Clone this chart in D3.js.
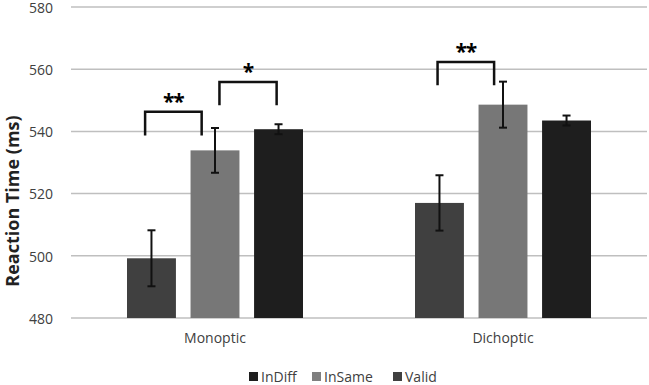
<!DOCTYPE html>
<html>
<head>
<meta charset="utf-8">
<script src="https://cdn.jsdelivr.net/npm/d3@7"></script>
<style>
  body { margin: 0; background: #fff; }
  text { font-family: "Open Sans", sans-serif; }
</style>
</head>
<body>
<div class="chart"></div>
<script>
// chart data
var categories = ["Monoptic", "Dichoptic"];
var seriesNames = ["InDiff", "InSame", "Valid"];
var means = [
  [499.2, 533.9, 540.7],
  [517.0, 548.6, 543.5]
];
var errors = [
  [9.0, 7.2, 1.6],
  [8.9, 7.4, 1.6]
];
var yTicks = [480, 500, 520, 540, 560, 580];
// significance brackets: category, from/to position (series index units), top value, leg value, label
var brackets = [
  { cat: "Monoptic", from: -0.1, to: 0.79, top: 546.3, leg: 538.7, label: "**" },
  { cat: "Monoptic", from: 1.07, to: 1.97, top: 555.9, leg: 548.4, label: "*" },
  { cat: "Dichoptic", from: -0.03, to: 0.86, top: 562.3, leg: 554.8, label: "**" }
];
var barColors = ["#404040", "#777777", "#1e1e1e"];
var legendColors = ["#1e1e1e", "#7f7f7f", "#404040"];

var svgWidth = 649, svgHeight = 385;
var margin = { top: 7, right: 2, bottom: 67, left: 71 };
var width = svgWidth - margin.left - margin.right;
var height = svgHeight - margin.top - margin.bottom;

var svg = d3.select(".chart").append("svg")
  .attr("width", svgWidth)
  .attr("height", svgHeight);

var chartGroup = svg.append("g")
  .attr("transform", `translate(${margin.left}, ${margin.top})`);

var xScale = d3.scaleBand()
  .domain(categories)
  .range([0, width]);

var xInner = d3.scaleBand()
  .domain(seriesNames)
  .range([xScale.bandwidth() / 2 - 88, xScale.bandwidth() / 2 + 88])
  .paddingInner(0.23)
  .paddingOuter(0);

var yScale = d3.scaleLinear()
  .domain([480, 580])
  .range([height, 0]);

// gridlines
chartGroup.append("g")
  .selectAll("line")
  .data(yTicks)
  .enter()
  .append("line")
  .attr("x1", 0)
  .attr("x2", width)
  .attr("y1", d => yScale(d))
  .attr("y2", d => yScale(d))
  .attr("stroke", "#bfbfbf")
  .attr("stroke-width", 1.5);

// y axis labels
var yAxis = d3.axisLeft(yScale).tickValues(yTicks).tickSize(0).tickPadding(18);
var yAxisG = chartGroup.append("g").call(yAxis);
yAxisG.select(".domain").remove();
yAxisG.selectAll("text")
  .attr("dy", "0.38em")
  .attr("fill", "#404040")
  .style("font-size", "14px")
  .style("font-family", "'Open Sans', sans-serif");

// x axis labels
var xAxis = d3.axisBottom(xScale).tickSize(0).tickPadding(15);
var xAxisG = chartGroup.append("g")
  .attr("transform", `translate(0, ${height})`)
  .call(xAxis);
xAxisG.select(".domain").remove();
xAxisG.selectAll("text")
  .attr("fill", "#404040")
  .style("font-size", "14px")
  .style("font-family", "'Open Sans', sans-serif");

// bars
var rows = [];
categories.forEach(function(c, i) {
  seriesNames.forEach(function(s, j) {
    rows.push({ cat: c, series: s, j: j, mean: means[i][j], err: errors[i][j] });
  });
});

var groups = chartGroup.selectAll(".bar")
  .data(rows)
  .enter()
  .append("g")
  .attr("class", "bar")
  .attr("transform", d => `translate(${xScale(d.cat) + xInner(d.series)}, 0)`);

groups.append("rect")
  .attr("x", 0)
  .attr("width", xInner.bandwidth())
  .attr("y", d => yScale(d.mean))
  .attr("height", d => height - yScale(d.mean))
  .style("fill", d => barColors[d.j]);

var cx = xInner.bandwidth() / 2;
groups.append("line")
  .attr("x1", cx).attr("x2", cx)
  .attr("y1", d => yScale(d.mean + d.err))
  .attr("y2", d => yScale(d.mean - d.err))
  .attr("stroke", "#111").attr("stroke-width", 2);
groups.append("line")
  .attr("x1", cx - 4).attr("x2", cx + 4)
  .attr("y1", d => yScale(d.mean + d.err))
  .attr("y2", d => yScale(d.mean + d.err))
  .attr("stroke", "#111").attr("stroke-width", 2);
groups.append("line")
  .attr("x1", cx - 4).attr("x2", cx + 4)
  .attr("y1", d => yScale(d.mean - d.err))
  .attr("y2", d => yScale(d.mean - d.err))
  .attr("stroke", "#111").attr("stroke-width", 2);

// significance brackets
var step = xInner.step();
function bx(cat, pos) {
  return xScale(cat) + xInner(seriesNames[0]) + cx + pos * step;
}
var br = chartGroup.selectAll(".bracket")
  .data(brackets)
  .enter()
  .append("g")
  .attr("class", "bracket");

br.append("path")
  .attr("d", d => `M${bx(d.cat, d.from)},${yScale(d.leg)}V${yScale(d.top)}H${bx(d.cat, d.to)}V${yScale(d.leg)}`)
  .attr("fill", "none")
  .attr("stroke", "#111")
  .attr("stroke-width", 2.5);

br.append("text")
  .attr("x", d => (bx(d.cat, d.from) + bx(d.cat, d.to)) / 2)
  .attr("y", d => yScale(d.top) - 3)
  .attr("text-anchor", "middle")
  .style("font-size", "21px")
  .style("font-weight", "bold")
  .style("letter-spacing", "-1px")
  .attr("fill", "#000")
  .text(d => d.label);

// y axis title
svg.append("text")
  .attr("transform", `translate(19, 201) rotate(-90)`)
  .attr("text-anchor", "middle")
  .style("font-size", "18px")
  .style("font-weight", "bold")
  .attr("fill", "#222")
  .text("Reaction Time (ms)");

// legend
var legendX = [249, 312, 393];
var legend = svg.selectAll(".legend")
  .data(seriesNames)
  .enter()
  .append("g")
  .attr("class", "legend")
  .attr("transform", (d, i) => `translate(${legendX[i]}, 372)`);

legend.append("rect")
  .attr("width", 9)
  .attr("height", 9)
  .attr("y", 0)
  .style("fill", (d, i) => legendColors[i]);

legend.append("text")
  .attr("x", 12)
  .attr("y", 10)
  .style("font-size", "14px")
  .attr("fill", "#404040")
  .text(d => d);
</script>
</body>
</html>
